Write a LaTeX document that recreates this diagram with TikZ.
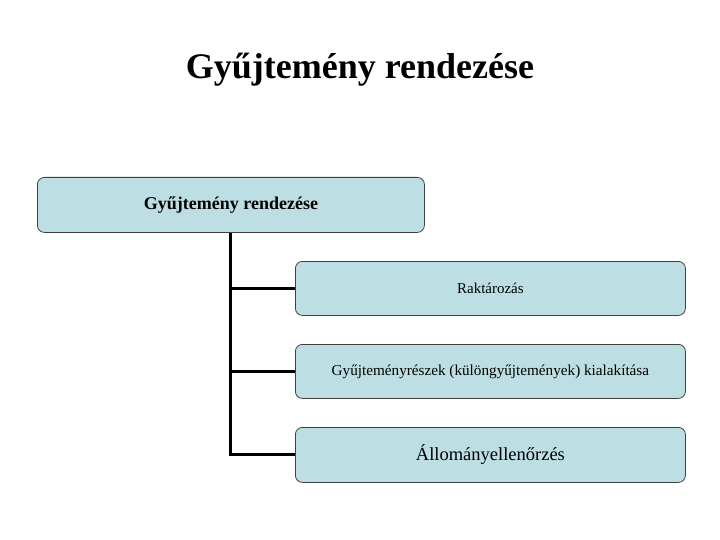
\documentclass[tikz,border=0pt]{standalone}
\usepackage{fontspec}
\setmainfont{Liberation Serif}
\definecolor{boxfill}{HTML}{BDDFE3}
\definecolor{boxline}{HTML}{404040}
\begin{document}
\begin{tikzpicture}[x=1pt,y=-1pt,
  boxstyle/.style={draw=boxline,fill=boxfill,rounded corners=7pt,line width=0.8pt,inner sep=0pt,anchor=north west},
  conn/.style={line width=3pt,draw=black}]
\useasboundingbox (0,0) rectangle (720,540);
\node (title) at (360,70) {\fontsize{36}{40}\selectfont\bfseries Gyűjtemény rendezése};
\node[boxstyle,minimum width=387pt,minimum height=55pt] (top) at (37,177) {};
\node at (231,205) {\fontsize{18}{20}\selectfont\bfseries Gyűjtemény rendezése};
\node[boxstyle,minimum width=390pt,minimum height=54pt] (b1) at (295,261) {};
\node[boxstyle,minimum width=390pt,minimum height=54pt] (b2) at (295,344) {};
\node[boxstyle,minimum width=390pt,minimum height=55pt] (b3) at (295,427) {};
\node at (b1.center) {\fontsize{15}{17}\selectfont Raktározás};
\node at (b2.center) {\fontsize{15.2}{17}\selectfont Gyűjteményrészek (különgyűjtemények) kialakítása};
\node at (b3.center) {\fontsize{18.5}{21}\selectfont Állományellenőrzés};
\coordinate (j) at (top.south |- b3.west);
\draw[conn] (top.south) -- (j) -- (b3.west);
\draw[conn] (top.south |- b1.west) -- (b1.west);
\draw[conn] (top.south |- b2.west) -- (b2.west);
\end{tikzpicture}
\end{document}
